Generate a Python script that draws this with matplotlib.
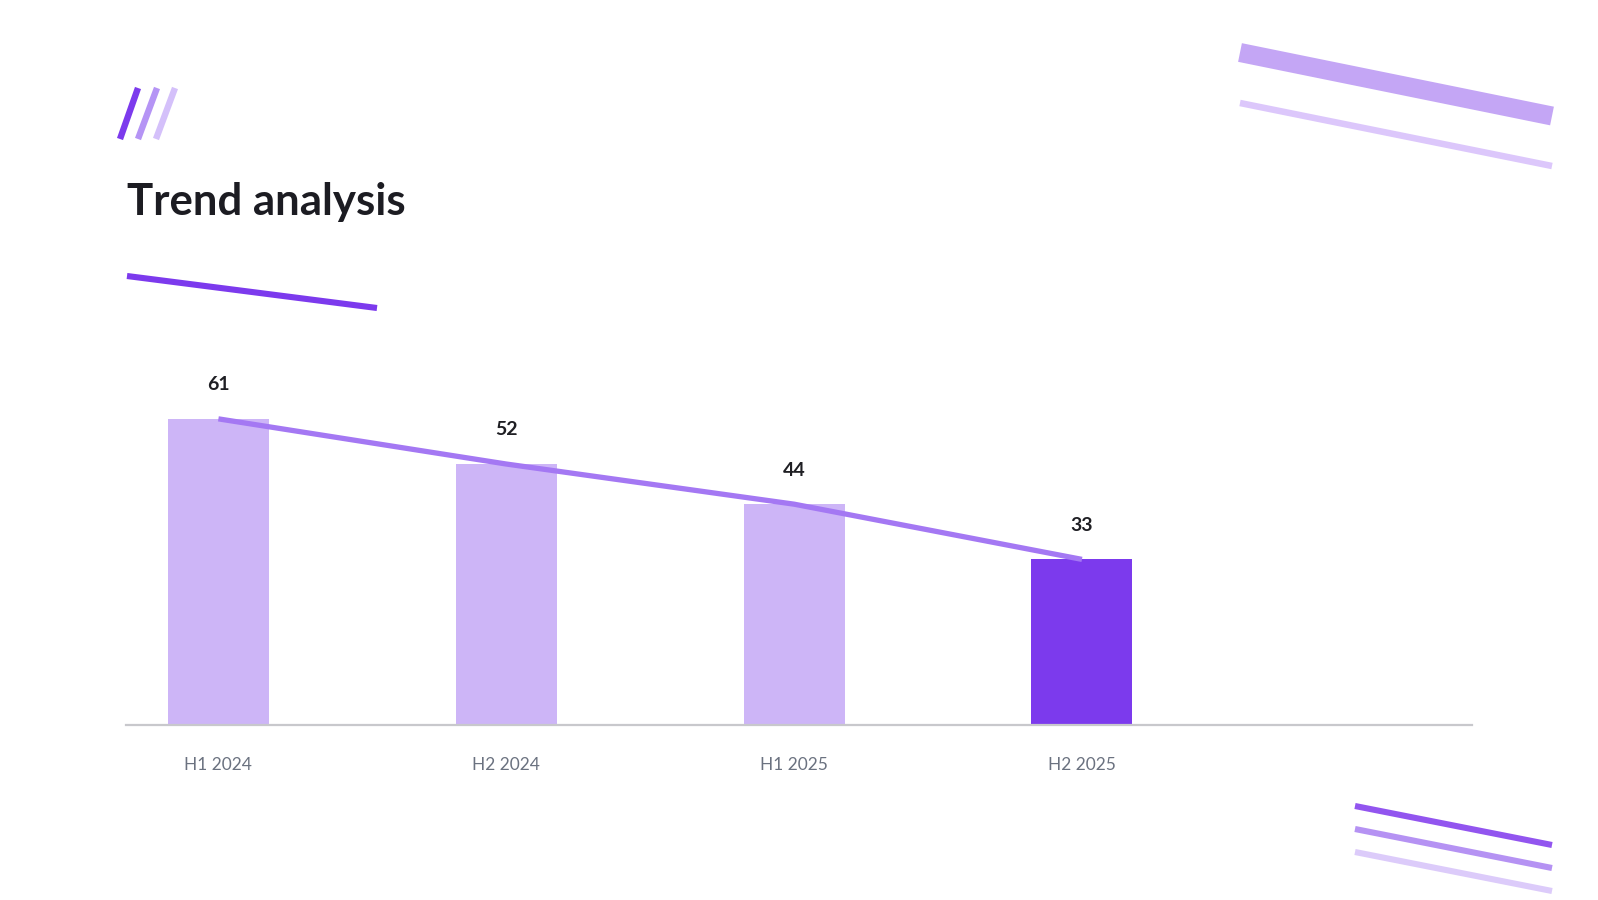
import matplotlib
matplotlib.use("Agg")
import matplotlib.pyplot as plt

# data
periods = ["H1 2024", "H2 2024", "H1 2025", "H2 2025"]
values = [61, 52, 44, 33]
bar_colors = ["#cdb5f7", "#cdb5f7", "#cdb5f7", "#7c3aed"]

plt.rcParams["font.family"] = ["Lato", "DejaVu Sans"]

fig = plt.figure(figsize=(15.98, 9), dpi=100)
fig.patch.set_facecolor("white")

# decorations (pixel space overlay)
deco = fig.add_axes([0, 0, 1, 1])
deco.set_xlim(0, 1598)
deco.set_ylim(900, 0)
deco.axis("off")

def stroke(x0, y0, x1, y1, color, lw):
    deco.plot([x0, x1], [y0, y1], color=color, lw=lw, solid_capstyle="butt")

# top-left slashes
stroke(120, 139, 138, 88, "#7c3aed", 4.6)
stroke(138, 139, 157, 88, "#b594f5", 4.6)
stroke(156, 139, 175, 88, "#d4c0fa", 4.6)
# underline below title
stroke(127, 276, 377, 308, "#7c3aed", 4.4)
# top-right bands
stroke(1240, 52.5, 1552, 116, "#c4a6f5", 13.7)
stroke(1240, 103, 1552, 166, "#dcc7fb", 4.7)
# bottom-right lines
stroke(1355, 806, 1552, 845, "#9255ef", 4.4)
stroke(1355, 829, 1552, 868, "#b592f3", 4.4)
stroke(1355, 852, 1552, 891, "#dccbfa", 4.4)

fig.text(127 / 1598, 1 - 215 / 900, "Trend analysis", fontsize=31.5,
         fontweight="bold", color="#1c1c22", ha="left", va="baseline")

# chart
ax = fig.add_axes([126 / 1598, 1 - 725 / 900, 1346 / 1598, 400 / 900])
x = list(range(len(periods)))
ax.bar(x, values, width=0.351, color=bar_colors, zorder=2)
ax.plot(x, values, color="#a478f3", lw=3.8, solid_capstyle="butt", zorder=3)

for xi, v in zip(x, values):
    ax.annotate(str(v), (xi, v), xytext=(0, 24.5), textcoords="offset points",
                ha="center", va="center", fontsize=14, fontweight="bold",
                color="#1f1f24")

ax.set_xlim(-0.321, 4.355)
ax.set_ylim(0, 79.7)
ax.set_xticks(x)
ax.set_xticklabels(periods, fontsize=12.5, color="#6b7280")
ax.tick_params(axis="x", length=0, pad=23)
ax.set_yticks([])
for side in ["top", "right", "left"]:
    ax.spines[side].set_visible(False)
ax.spines["bottom"].set_color("#c8c8cc")
ax.spines["bottom"].set_linewidth(1.6)
ax.patch.set_alpha(0)

fig.savefig("out.png", dpi=100, facecolor="white")
